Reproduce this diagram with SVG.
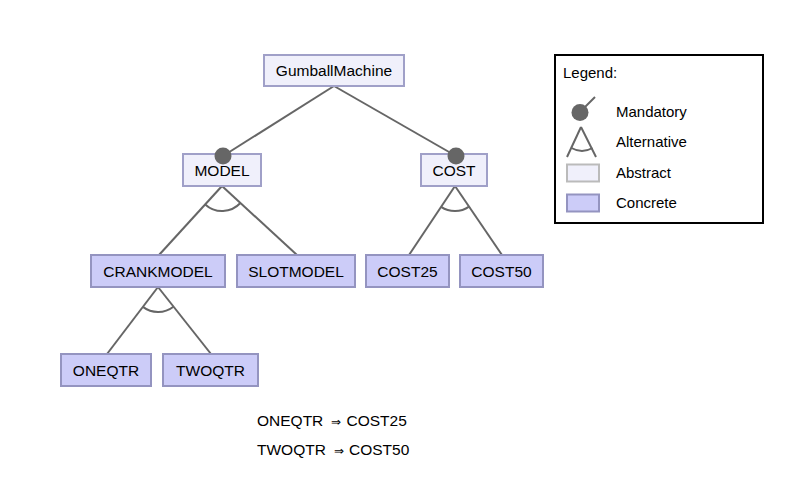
<svg xmlns="http://www.w3.org/2000/svg" width="808" height="488" viewBox="0 0 808 488">
<style>
text{font-family:"Liberation Sans",Arial,sans-serif;font-size:15px;fill:#000}
.nt{font-size:15.5px;text-anchor:middle}
.ct{font-size:15.5px}
.abs{fill:#f0f0fb;stroke:#a0a0c8;stroke-width:2}
.con{fill:#ccccf8;stroke:#9494c0;stroke-width:2}
.ln{stroke:#666;stroke-width:2;fill:none}
.man{fill:#666}
.ar{font-size:12px}
</style>
<rect width="808" height="488" fill="#fff"/>
<g id="connectors">
<line class="ln" x1="334" y1="86" x2="223" y2="156"/>
<line class="ln" x1="334" y1="86" x2="456" y2="156"/>
<line class="ln" x1="222" y1="186" x2="159" y2="255"/>
<line class="ln" x1="222" y1="186" x2="297" y2="255"/>
<path class="ln" d="M205.2,204.4 A25,25 0 0 0 240.4,203.0"/>
<line class="ln" x1="455" y1="186" x2="409" y2="255"/>
<line class="ln" x1="455" y1="186" x2="502" y2="255"/>
<path class="ln" d="M441.1,206.8 A25,25 0 0 0 469.1,206.6"/>
<line class="ln" x1="158" y1="287" x2="107" y2="354"/>
<line class="ln" x1="158" y1="287" x2="211" y2="354"/>
<path class="ln" d="M142.9,306.9 A25,25 0 0 0 173.4,306.7"/>
</g>
<g id="GumballMachine"><rect class="abs" x="264" y="55" width="140" height="31"/><text class="nt" x="334" y="76">GumballMachine</text></g>
<g id="MODEL"><rect class="abs" x="183" y="154" width="78" height="32"/><text class="nt" x="222" y="176">MODEL</text></g>
<g id="COST"><rect class="abs" x="421" y="154" width="66" height="32"/><text class="nt" x="454" y="176">COST</text></g>
<g id="CRANKMODEL"><rect class="con" x="91" y="255" width="134" height="32"/><text class="nt" x="158" y="277">CRANKMODEL</text></g>
<g id="SLOTMODEL"><rect class="con" x="237" y="255" width="118" height="32"/><text class="nt" x="296" y="277">SLOTMODEL</text></g>
<g id="COST25"><rect class="con" x="366" y="255" width="83" height="32"/><text class="nt" x="407.5" y="277">COST25</text></g>
<g id="COST50"><rect class="con" x="460" y="255" width="83" height="32"/><text class="nt" x="501.5" y="277">COST50</text></g>
<g id="ONEQTR"><rect class="con" x="61" y="354" width="90" height="32"/><text class="nt" x="106" y="376">ONEQTR</text></g>
<g id="TWOQTR"><rect class="con" x="163" y="354" width="95" height="32"/><text class="nt" x="210.5" y="376">TWOQTR</text></g>
<g id="mandatory-marks">
<circle class="man" cx="223" cy="156" r="8.5"/>
<circle class="man" cx="456" cy="156" r="8.5"/>
</g>
<g id="constraints">
<text class="ct" x="257" y="426">ONEQTR<tspan class="ar" x="331">⇒</tspan><tspan x="346.5">COST25</tspan></text>
<text class="ct" x="257" y="455">TWOQTR<tspan class="ar" x="333.5">⇒</tspan><tspan x="349">COST50</tspan></text>
</g>
<g id="legend">
<rect x="555" y="55" width="208" height="168" fill="#fff" stroke="#000" stroke-width="2"/>
<text x="563" y="78">Legend:</text>
<line class="ln" x1="580" y1="112" x2="595" y2="97"/>
<circle class="man" cx="580" cy="112.5" r="8.5"/>
<text x="616" y="117">Mandatory</text>
<line class="ln" x1="581" y1="127" x2="567" y2="157"/>
<line class="ln" x1="581" y1="127" x2="596" y2="157"/>
<path class="ln" d="M571.5,148 Q582,154 592.5,148"/>
<text x="616" y="147">Alternative</text>
<rect x="567" y="164.5" width="32" height="17" fill="#f0f0fb" stroke="#bbb" stroke-width="2"/>
<text x="616" y="178">Abstract</text>
<rect x="567" y="194.5" width="32" height="17" class="con"/>
<text x="616" y="208">Concrete</text>
</g>
</svg>
